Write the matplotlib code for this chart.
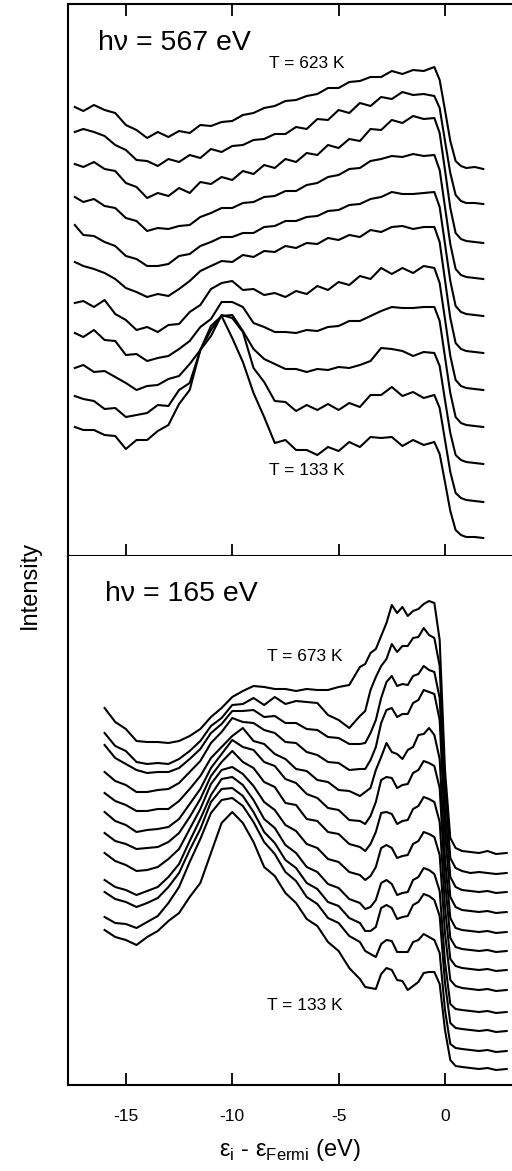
import matplotlib
matplotlib.use("Agg")
import matplotlib.pyplot as plt

# binding energy grids (eV, relative to Fermi level)
e_top = [-17.4, -17.0, -16.5, -16.0, -15.5, -15.0, -14.5, -14.0, -13.5, -13.0,
         -12.5, -12.0, -11.5, -11.0, -10.5, -10.0, -9.5, -9.0, -8.5, -8.0,
         -7.5, -7.0, -6.5, -6.0, -5.5, -5.0, -4.5, -4.0, -3.5, -3.0,
         -2.5, -2.0, -1.5, -1.0, -0.5, -0.25, 0.0, 0.25, 0.5, 0.75,
         1.0, 1.4, 1.8]
e_bot = [-16.0, -15.5, -15.0, -14.5, -14.0, -13.5, -13.0, -12.5, -12.0, -11.5,
         -11.0, -10.5, -10.0, -9.5, -9.0, -8.5, -8.0, -7.5, -7.0, -6.5,
         -6.0, -5.5, -5.0, -4.5, -4.0, -3.75, -3.5, -3.25, -3.0, -2.75,
         -2.5, -2.25, -2.0, -1.75, -1.5, -1.25, -1.0, -0.75, -0.5, -0.25,
         0.0, 0.25, 0.5, 0.8, 1.2, 1.6, 2.0, 2.4, 2.9]

# hv = 567 eV, stacked spectra (arb. units, offsets included), 623 K -> 133 K
hv567_1 = [449, 445, 451, 446, 443, 431, 426, 418, 424, 419, 425, 423, 431, 430, 434, 435, 441, 443, 448, 450,
           455, 456, 460, 462, 468, 468, 474, 475, 479, 479, 485, 482, 486, 485, 489, 476, 446, 415, 395, 390,
           388, 389, 387]
hv567_2 = [424, 427, 424, 420, 411, 406, 396, 395, 390, 397, 394, 401, 398, 407, 404, 410, 411, 416, 417, 422,
           422, 429, 427, 437, 436, 446, 443, 453, 450, 459, 457, 464, 461, 462, 460, 448, 415, 383, 361, 355,
           353, 353, 352]
hv567_3 = [392, 389, 394, 387, 385, 373, 369, 358, 363, 360, 368, 363, 374, 372, 379, 376, 385, 382, 391, 388,
           397, 394, 403, 401, 411, 408, 417, 415, 427, 426, 436, 433, 440, 437, 438, 423, 386, 348, 323, 317,
           315, 314, 313]
hv567_4 = [359, 354, 357, 350, 348, 338, 335, 325, 328, 327, 330, 331, 339, 343, 348, 348, 353, 354, 359, 360,
           365, 365, 371, 373, 379, 381, 387, 388, 395, 397, 400, 399, 402, 400, 401, 386, 349, 312, 287, 281,
           279, 278, 277]
hv567_5 = [331, 321, 320, 314, 310, 300, 297, 290, 290, 292, 300, 302, 310, 314, 319, 319, 323, 323, 329, 330,
           335, 335, 339, 340, 345, 346, 351, 352, 357, 359, 364, 362, 362, 363, 364, 349, 312, 275, 250, 244,
           242, 241, 240]
hv567_6 = [294, 290, 287, 283, 277, 268, 264, 259, 262, 260, 267, 275, 285, 290, 295, 294, 301, 299, 305, 304,
           310, 308, 313, 312, 318, 316, 321, 319, 326, 324, 329, 330, 327, 329, 329, 314, 276, 238, 213, 207,
           205, 204, 203]
hv567_7 = [253, 255, 249, 256, 242, 236, 226, 229, 224, 231, 232, 244, 251, 267, 273, 275, 266, 267, 261, 263,
           259, 265, 262, 270, 266, 274, 271, 280, 277, 288, 282, 288, 283, 290, 288, 273, 237, 200, 176, 170,
           168, 167, 166]
hv567_8 = [223, 219, 226, 216, 215, 201, 202, 195, 198, 200, 207, 215, 229, 237, 254, 254, 249, 233, 229, 224,
           224, 223, 226, 225, 229, 230, 235, 235, 240, 245, 249, 248, 248, 249, 249, 235, 199, 163, 139, 133,
           131, 130, 129]
hv567_9 = [188, 191, 184, 185, 179, 173, 166, 170, 171, 177, 180, 192, 206, 230, 240, 241, 225, 207, 197, 192,
           187, 187, 184, 187, 186, 189, 188, 191, 195, 208, 207, 205, 200, 204, 203, 190, 156, 123, 101, 96,
           94, 93, 92]
hv567_10 = [160, 157, 155, 147, 148, 139, 141, 143, 151, 150, 166, 173, 206, 220, 241, 238, 224, 188, 174, 155,
            154, 145, 151, 146, 152, 146, 153, 149, 161, 161, 169, 160, 164, 158, 161, 148, 116, 84, 63, 58,
            56, 55, 54]
hv567_11 = [129, 126, 126, 121, 120, 107, 116, 116, 125, 131, 152, 166, 206, 226, 240, 218, 194, 163, 139, 113,
            116, 106, 106, 101, 109, 105, 114, 109, 119, 118, 119, 110, 116, 111, 114, 102, 74, 45, 26, 21,
            19, 19, 18]

# hv = 165 eV, stacked spectra, 673 K -> 133 K
hv165_1 = [377, 363, 356, 344, 343, 343, 342, 344, 349, 356, 368, 377, 388, 394, 399, 398, 396, 396, 394, 396,
           395, 395, 398, 400, 418, 421, 432, 436, 449, 462, 480, 472, 478, 469, 474, 476, 481, 484, 482, 445,
           315, 247, 237, 234, 233, 232, 234, 231, 232]
hv165_2 = [352, 339, 334, 323, 321, 322, 321, 326, 334, 344, 359, 367, 380, 381, 387, 380, 388, 381, 384, 383,
           382, 370, 365, 357, 369, 374, 395, 408, 419, 426, 441, 433, 439, 439, 447, 448, 457, 450, 447, 419,
           298, 227, 217, 214, 212, 213, 212, 211, 212]
hv165_3 = [340, 327, 321, 315, 312, 313, 313, 317, 326, 336, 352, 361, 374, 374, 375, 368, 369, 362, 362, 356,
           355, 348, 347, 341, 341, 342, 352, 365, 387, 403, 409, 399, 401, 400, 409, 411, 419, 415, 413, 387,
           275, 208, 198, 195, 194, 193, 194, 192, 193]
hv165_4 = [313, 304, 300, 293, 293, 295, 296, 302, 313, 324, 342, 353, 367, 363, 362, 355, 352, 343, 342, 333,
           330, 323, 322, 315, 316, 316, 325, 338, 362, 375, 377, 368, 371, 371, 382, 385, 395, 393, 391, 365,
           254, 188, 178, 175, 174, 173, 174, 172, 173]
hv165_5 = [292, 284, 280, 274, 274, 276, 276, 284, 296, 309, 327, 338, 349, 357, 344, 341, 331, 326, 316, 314,
           305, 303, 295, 294, 289, 293, 297, 315, 328, 342, 333, 331, 326, 335, 338, 350, 351, 357, 350, 326,
           227, 167, 157, 155, 154, 153, 154, 152, 153]
hv165_6 = [273, 264, 260, 253, 255, 256, 258, 266, 281, 296, 317, 331, 345, 338, 335, 323, 319, 306, 302, 291,
           287, 277, 275, 265, 264, 261, 269, 283, 305, 308, 307, 297, 300, 301, 312, 315, 324, 322, 319, 297,
           204, 147, 138, 136, 135, 134, 135, 133, 134]
hv165_7 = [252, 244, 241, 236, 237, 238, 243, 252, 268, 286, 309, 323, 334, 323, 317, 303, 298, 282, 280, 266,
           264, 253, 251, 241, 238, 234, 241, 253, 272, 273, 271, 261, 264, 265, 276, 279, 288, 286, 283, 263,
           178, 126, 119, 117, 116, 115, 116, 114, 115]
hv165_8 = [232, 224, 220, 214, 215, 218, 226, 236, 256, 276, 301, 315, 318, 311, 299, 283, 275, 260, 254, 241,
           237, 226, 223, 213, 210, 205, 209, 218, 237, 240, 237, 227, 229, 230, 241, 244, 253, 251, 248, 230,
           152, 105, 99, 97, 96, 95, 96, 94, 95]
hv165_9 = [205, 198, 195, 190, 194, 198, 208, 221, 244, 266, 290, 306, 308, 300, 285, 266, 257, 240, 232, 218,
           213, 201, 197, 186, 182, 176, 178, 185, 202, 205, 201, 190, 192, 193, 205, 208, 217, 215, 211, 194,
           123, 81, 76, 75, 74, 73, 74, 72, 73]
hv165_10 = [193, 186, 183, 178, 182, 187, 198, 212, 235, 256, 283, 296, 297, 289, 273, 253, 242, 225, 217, 202,
            196, 183, 179, 167, 162, 154, 154, 158, 177, 180, 177, 166, 168, 169, 180, 183, 191, 189, 185, 169,
            102, 62, 57, 56, 55, 54, 55, 53, 54]
hv165_11 = [168, 162, 161, 157, 163, 169, 182, 198, 223, 246, 272, 285, 287, 279, 263, 243, 231, 213, 204, 188,
            181, 167, 162, 149, 143, 134, 131, 128, 141, 145, 144, 133, 133, 133, 143, 145, 151, 148, 145, 132,
            75, 41, 37, 36, 35, 34, 35, 33, 34]
hv165_12 = [155, 148, 145, 140, 148, 154, 164, 172, 188, 202, 232, 262, 273, 262, 243, 218, 209, 192, 182, 166,
            159, 143, 134, 117, 106, 98, 97, 96, 111, 117, 115, 105, 104, 95, 99, 103, 112, 113, 113, 101,
            55, 25, 19, 18, 17, 16, 17, 15, 16]

top_spectra = [hv567_1, hv567_2, hv567_3, hv567_4, hv567_5, hv567_6,
               hv567_7, hv567_8, hv567_9, hv567_10, hv567_11]
bot_spectra = [hv165_1, hv165_2, hv165_3, hv165_4, hv165_5, hv165_6,
               hv165_7, hv165_8, hv165_9, hv165_10, hv165_11, hv165_12]

x_ticks = [-15, -10, -5, 0]

plt.rcParams['font.family'] = ['Liberation Sans', 'DejaVu Sans']
plt.rcParams['mathtext.fontset'] = 'custom'
plt.rcParams['mathtext.rm'] = 'Liberation Sans'
plt.rcParams['axes.unicode_minus'] = False

W, H = 512, 1171
fig = plt.figure(figsize=(W / 100, H / 100), dpi=100)
ax_top = fig.add_axes([68 / W, 1 - 556 / H, 444 / W, 552 / H])
ax_bot = fig.add_axes([68 / W, 1 - 1085 / H, 444 / W, 529 / H])

for s in top_spectra:
    ax_top.plot(e_top, s, color="black", lw=1.5, solid_joinstyle="round")
for s in bot_spectra:
    ax_bot.plot(e_bot, s, color="black", lw=1.5, solid_joinstyle="round")

for ax in (ax_top, ax_bot):
    ax.set_xlim(-17.72, 3.15)
    ax.set_xticks(x_ticks)
    ax.set_yticks([])
    ax.spines["right"].set_visible(False)
    for sp in ("left", "top", "bottom"):
        ax.spines[sp].set_linewidth(1.5)
    ax.tick_params(axis="x", direction="in", length=8.5, width=1.3)

ax_top.set_ylim(0, 552)
ax_bot.set_ylim(0, 529)
ax_top.tick_params(axis="x", top=True, bottom=True, labelbottom=False)
ax_bot.spines["top"].set_visible(False)
ax_bot.tick_params(axis="x", top=False, labelsize=12.5, pad=17)

ax_top.text(-16.3, 513, "hν = 567 eV", fontsize=20.5, va="center", ha="left")
ax_top.text(-6.5, 493, "T = 623 K", fontsize=12.5, va="center", ha="center")
ax_top.text(-6.5, 86, "T = 133 K", fontsize=12.5, va="center", ha="center")
ax_bot.text(-16.0, 491, "hν = 165 eV", fontsize=20.5, va="center", ha="left")
ax_bot.text(-6.58, 429, "T = 673 K", fontsize=12.5, va="center", ha="center")
ax_bot.text(-6.58, 80, "T = 133 K", fontsize=12.5, va="center", ha="center")

fig.text(290 / W, 1 - 1150 / H, r"ε$_\mathrm{i}$ - ε$_\mathrm{Fermi}$ (eV)",
         fontsize=17, ha="center", va="center")
fig.text(30 / W, 1 - 585 / H, "Intensity", fontsize=17, rotation=90,
         ha="center", va="center")

fig.savefig("out.png", dpi=100, facecolor="white")
plt.close(fig)
